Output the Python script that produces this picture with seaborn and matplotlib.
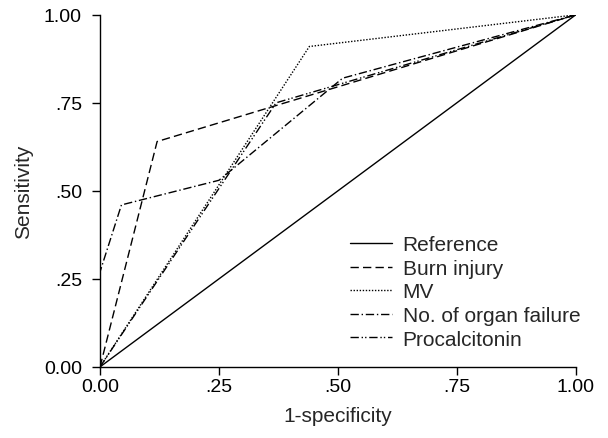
import matplotlib
matplotlib.use('Agg')
import matplotlib.pyplot as plt
import pandas as pd
import seaborn as sns

# ROC curves
ref_x = [0.0, 1.0]
ref_y = [0.0, 1.0]
burn_x = [0.0, 0.12, 1.0]
burn_y = [0.0, 0.64, 1.0]
mv_x = [0.0, 0.44, 1.0]
mv_y = [0.0, 0.91, 1.0]
organ_x = [0.0, 0.0, 0.045, 0.25, 0.51, 1.0]
organ_y = [0.0, 0.27, 0.46, 0.53, 0.82, 1.0]
pct_x = [0.0, 0.37, 1.0]
pct_y = [0.0, 0.75, 1.0]

labels = ['Reference', 'Burn injury', 'MV', 'No. of organ failure', 'Procalcitonin']
tick_vals = [0.0, 0.25, 0.5, 0.75, 1.0]
tick_labels = ['0.00', '.25', '.50', '.75', '1.00']

series = [(ref_x, ref_y), (burn_x, burn_y), (mv_x, mv_y), (organ_x, organ_y), (pct_x, pct_y)]
dash_styles = [(None, None), (6, 3), (1, 1.2), (6, 2, 1, 2), (6, 2, 1, 1.5, 1, 2)]

sns.set_style('ticks')
plt.rcParams['font.family'] = ['Liberation Sans', 'DejaVu Sans']

fig, ax = plt.subplots(figsize=(6.08, 4.39), dpi=100)
fig.subplots_adjust(left=0.1645, right=0.947, top=0.964, bottom=0.162)

for (xs, ys), lab, ds in zip(series, labels, dash_styles):
    df = pd.DataFrame({'x': xs, 'y': ys})
    sns.lineplot(data=df, x='x', y='y', ax=ax, color='black', linewidth=1.0,
                 sort=False, estimator=None, label=lab)
    if ds[0] is not None:
        ax.lines[-1].set_dashes(ds)

ax.set_xlim(0, 1)
ax.set_ylim(0, 1)
ax.set_xticks(tick_vals)
ax.set_xticklabels(tick_labels)
ax.set_yticks(tick_vals)
ax.set_yticklabels(tick_labels)
ax.tick_params(axis='both', labelsize=14, length=6, width=1, color='black', labelcolor='black')
ax.tick_params(axis='x', pad=2)
ax.tick_params(axis='y', pad=7)
ax.set_xlabel('1-specificity', fontsize=15, labelpad=8)
ax.set_ylabel('Sensitivity', fontsize=15, labelpad=8)
for s in ['top', 'right']:
    ax.spines[s].set_visible(False)
for s in ['left', 'bottom']:
    ax.spines[s].set_color('black')
    ax.spines[s].set_linewidth(1.0)

ax.legend(loc='center left', bbox_to_anchor=(350 / 608, 1 - 293 / 439),
          bbox_transform=fig.transFigure, frameon=False, fontsize=15,
          borderaxespad=0, borderpad=0,
          handlelength=2.0, handletextpad=0.53, labelspacing=0.22)

fig.savefig('out.png', dpi=100)
